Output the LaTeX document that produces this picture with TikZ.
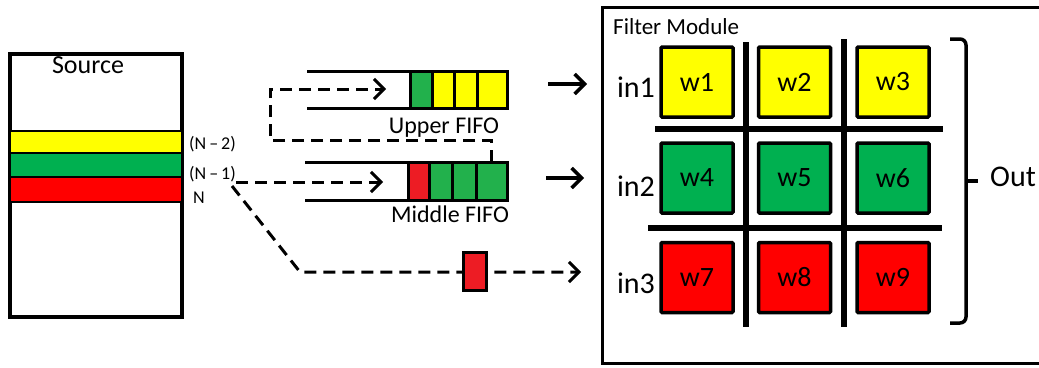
\documentclass[tikz,border=0pt]{standalone}
\usepackage{fontspec}
\setmainfont{Carlito}
\usetikzlibrary{arrows.meta,positioning}

\definecolor{ylw}{RGB}{255,255,0}
\definecolor{grn}{RGB}{0,176,80}
\definecolor{rd}{RGB}{255,0,0}
\definecolor{fgrn}{RGB}{34,177,76}
\definecolor{frd}{RGB}{237,28,36}

\tikzset{
  wcell/.style={draw,line width=3.5pt,rounded corners=1pt,minimum width=72pt,minimum height=70pt,inner sep=0pt,font=\fontsize{28}{30}\selectfont},
  fifo/.style={line width=3pt},
  band/.style={line width=2.5pt},
  flow/.style={line width=3pt,dash pattern=on 12pt off 7pt},
  grid/.style={line width=6pt},
  txt/.style={inner sep=0pt,anchor=base},
}

\begin{document}
\begin{tikzpicture}[x=1pt,y=-1pt]
\useasboundingbox (0,0) rectangle (1039,367);
\begin{scope}[>={Straight Barb[length=10pt,width=20pt]}]
% source memory
\draw[line width=3.5pt] (10,54) rectangle (182,317);
\filldraw[band,fill=ylw] (10,131) rectangle (182,153);
\filldraw[band,fill=grn] (10,153) rectangle (182,177);
\filldraw[band,fill=rd] (10,177) rectangle (182,202);
\node[txt,font=\fontsize{26}{28}\selectfont] (src) at (88,73) {Source};

\node[txt,anchor=base west,font=\fontsize{18}{20}\selectfont] (n2) at (189,149) {(N\,–\,2)};
\node[txt,anchor=base west,font=\fontsize{18}{20}\selectfont] (n1) at (189,179) {(N\,–\,1)};
\node[txt,anchor=base west,font=\fontsize{18}{20}\selectfont] (n0) at (193,203) {N};

% upper fifo
\draw[fifo] (307,71) -- (410,71);
\draw[fifo] (307,108) -- (410,108);
\foreach \xa/\xb/\col in {410/432/fgrn,432/454/ylw,454/477/ylw,477/507/ylw}
  \filldraw[fifo,fill=\col] (\xa,71) rectangle (\xb,108);
\node[txt,font=\fontsize{24}{26}\selectfont] (ufifo) at (444,133) {Upper FIFO};

% middle fifo
\draw[fifo] (305,162) -- (408,162);
\draw[fifo] (305,200) -- (408,200);
\foreach \xa/\xb/\col in {408/429/frd,429/452/fgrn,452/476/fgrn,476/507/fgrn}
  \filldraw[fifo,fill=\col] (\xa,162) rectangle (\xb,200);
\node[txt,font=\fontsize{24}{26}\selectfont] (mfifo) at (450,222) {Middle FIFO};

% data paths
\coordinate (mout) at (491,162);
\coordinate (uin) at (386,89);
\coordinate (min) at (383,182);
\coordinate (lin) at (581,272);
\draw[flow,->] (mout) -- (491,140) -- (270,140) -- (270,89) -- (uin);
\draw[flow,->] (n1.east |- min) -- (min);
\draw[flow,->] (232,186) -- (300,272) -- (lin);
\node[draw,line width=3pt,fill=frd,minimum width=23pt,minimum height=38pt,inner sep=0pt] (reg) at (474.5,271) {};

% filter module
\draw[line width=3pt] (602,7) rectangle (1060,363);
\node[txt,anchor=base west,font=\fontsize{23}{25}\selectfont] (fm) at (613,34) {Filter Module};
\coordinate (in1a) at (548,84);
\coordinate (in1b) at (587,84);
\coordinate (in2a) at (546,178);
\coordinate (in2b) at (584,178);
\draw[line width=3.5pt,->] (in1a) -- (in1b);
\draw[line width=3.5pt,->] (in2a) -- (in2b);

\draw[grid] (746,42) -- (746,327);
\draw[grid] (844,39) -- (844,327);
\draw[grid] (655,129) -- (943,129);
\draw[grid] (648,228) -- (942,228);

\foreach \r/\y/\col in {0/82/ylw,1/178/grn,2/277.5/rd}
  \foreach \c/\x in {1/697,2/794.5,3/893}
  {
    \pgfmathtruncatemacro{\k}{3*\r+\c}
    \node[wcell,fill=\col] (w\k) at (\x,\y) {w\k};
  }

\node[txt,font=\fontsize{30}{32}\selectfont] (in1) at (636,97) {in1};
\node[txt,font=\fontsize{30}{32}\selectfont] (in2) at (636,196) {in2};
\node[txt,font=\fontsize{30}{32}\selectfont] (in3) at (636,293) {in3};

% output bracket
\draw[line width=3.5pt,rounded corners=6pt] (950,39) -| (966,323) -- (950,323);
\coordinate (bt) at (966,181);
\draw[line width=3.5pt] (bt) -- ++(12,0);
\node[txt,anchor=base west,font=\fontsize{30}{32}\selectfont] (out) at (990,186) {Out};
\end{scope}
\end{tikzpicture}
\end{document}
